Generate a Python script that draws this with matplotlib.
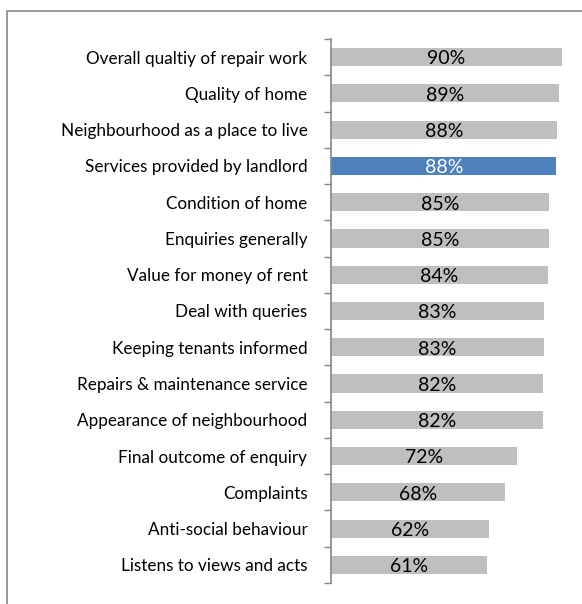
import numpy as np
import matplotlib
matplotlib.use('Agg')
from matplotlib import pyplot as plt
from matplotlib.patches import Rectangle

# satisfaction scores, top to bottom
categories = ['Overall qualtiy of repair work', 'Quality of home', 'Neighbourhood as a place to live',
              'Services provided by landlord', 'Condition of home', 'Enquiries generally',
              'Value for money of rent', 'Deal with queries', 'Keeping tenants informed',
              'Repairs & maintenance service', 'Appearance of neighbourhood', 'Final outcome of enquiry',
              'Complaints', 'Anti-social behaviour', 'Listens to views and acts']
values = [90.0, 88.8, 88.2, 87.8, 84.8, 84.8, 84.4, 83.1, 82.8, 82.6, 82.5, 72.3, 67.7, 61.7, 60.8]
labels = ['90%', '89%', '88%', '88%', '85%', '85%', '84%', '83%', '83%', '82%', '82%', '72%', '68%', '62%', '61%']
highlight = 'Services provided by landlord'

plt.rcParams['font.family'] = ['Lato', 'DejaVu Sans']

W, H = 582, 604
fig = plt.figure(figsize=(W/100, H/100), dpi=100)
ax = fig.add_axes([331/W, (H-583)/H, (W-331)/W, (583-39)/H])

y = np.arange(len(categories))
colors = ['#4F81BD' if c == highlight else '#BFBFBF' for c in categories]
ax.barh(y, values, height=0.5, color=colors)

# value labels sit a touch low in the bar, like the original
for yi, v, lab, c in zip(y, values, labels, categories):
    ax.text(v/2, yi + 0.05, lab, ha='center', va='center', fontsize=14,
            color='white' if c == highlight else 'black')

ax.set_xlim(0, (W-331)/2.567)
ax.set_ylim(len(categories)-0.5, -0.5)
ax.set_yticks(y)
ax.set_yticklabels(categories, fontsize=12.3)
ax.set_yticks(np.arange(len(categories)+1)-0.5, minor=True)
ax.tick_params(axis='y', which='major', length=0, pad=17)
ax.tick_params(axis='y', which='minor', length=5, color='#868686', width=1)
ax.set_xticks([])
for s in ['top', 'right', 'bottom']:
    ax.spines[s].set_visible(False)
ax.spines['left'].set_color('#868686')
ax.spines['left'].set_linewidth(1.2)

# chart area border (cut off at right and bottom)
fig.add_artist(Rectangle((7/W, -0.1), 2, (H-11)/H + 0.1, fill=False, ec='#868686',
                         lw=1.2, transform=fig.transFigure))

fig.savefig('out.png', dpi=100)
